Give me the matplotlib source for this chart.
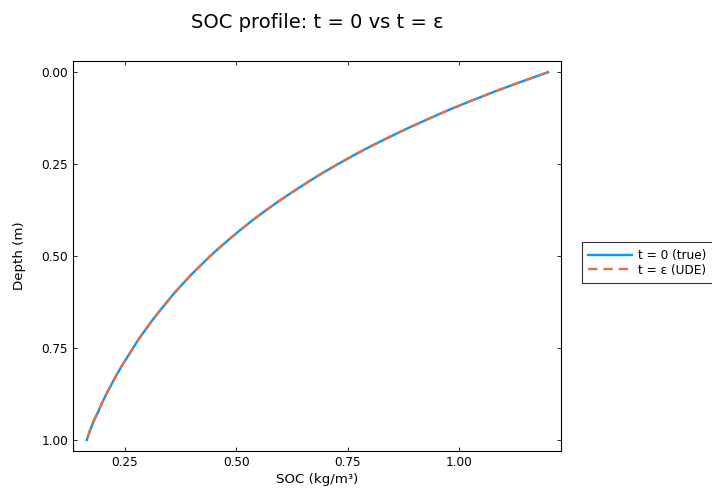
import matplotlib.pyplot as plt

depth = [0.000, 0.025, 0.050, 0.075, 0.100, 0.125, 0.150, 0.175, 0.200, 0.225,
         0.250, 0.275, 0.300, 0.325, 0.350, 0.375, 0.400, 0.425, 0.450, 0.475,
         0.500, 0.525, 0.550, 0.575, 0.600, 0.625, 0.650, 0.675, 0.700, 0.725,
         0.750, 0.775, 0.800, 0.825, 0.850, 0.875, 0.900, 0.925, 0.950, 0.975, 1.000]
soc_true = [1.200, 1.142, 1.086, 1.033, 0.982, 0.935, 0.889, 0.846, 0.804, 0.765,
            0.728, 0.692, 0.659, 0.627, 0.596, 0.567, 0.539, 0.513, 0.488, 0.464,
            0.441, 0.420, 0.399, 0.380, 0.361, 0.344, 0.327, 0.311, 0.296, 0.281,
            0.268, 0.255, 0.242, 0.230, 0.219, 0.208, 0.198, 0.189, 0.179, 0.171, 0.164]
soc_ude = [1.200, 1.142, 1.086, 1.033, 0.982, 0.935, 0.889, 0.846, 0.804, 0.765,
           0.728, 0.692, 0.659, 0.627, 0.596, 0.567, 0.539, 0.513, 0.488, 0.464,
           0.441, 0.420, 0.399, 0.380, 0.361, 0.344, 0.327, 0.311, 0.296, 0.281,
           0.268, 0.255, 0.242, 0.230, 0.219, 0.208, 0.198, 0.189, 0.179, 0.171, 0.164]

fig = plt.figure(figsize=(7.12, 4.97), dpi=100)
ax = fig.add_axes([0.1025, 0.0926, 0.6855, 0.7844])

ax.plot(soc_true, depth, color="#009AFA", lw=1.7, label="t = 0 (true)")
ax.plot(soc_ude, depth, color="#E36F47", lw=1.7, ls=(0, (4, 2.5)), label="t = ε (UDE)")

ax.set_xlim(0.133, 1.229)
ax.set_ylim(1.03, -0.03)
ax.set_xticks([0.25, 0.5, 0.75, 1.0])
ax.set_yticks([0.0, 0.25, 0.5, 0.75, 1.0])
ax.set_xticklabels(["0.25", "0.50", "0.75", "1.00"])
ax.set_yticklabels(["0.00", "0.25", "0.50", "0.75", "1.00"])
ax.tick_params(direction="in", top=True, right=True, labelsize=8.7, length=3, width=0.6)
for s in ax.spines.values():
    s.set_linewidth(0.8)

ax.set_xlabel("SOC (kg/m³)", fontsize=9.6, labelpad=3)
ax.set_ylabel("Depth (m)", fontsize=9.6, labelpad=11)
ax.set_title("SOC profile: t = 0 vs t = ε", fontsize=14, pad=24)

leg = ax.legend(loc="center left", bbox_to_anchor=(1.03, 0.483), fontsize=8.7,
                frameon=True, fancybox=False, edgecolor="black", handlelength=3.6,
                borderpad=0.55, labelspacing=0.15, handletextpad=0.5)
leg.get_frame().set_linewidth(0.8)

fig.savefig("out.png", dpi=100)
